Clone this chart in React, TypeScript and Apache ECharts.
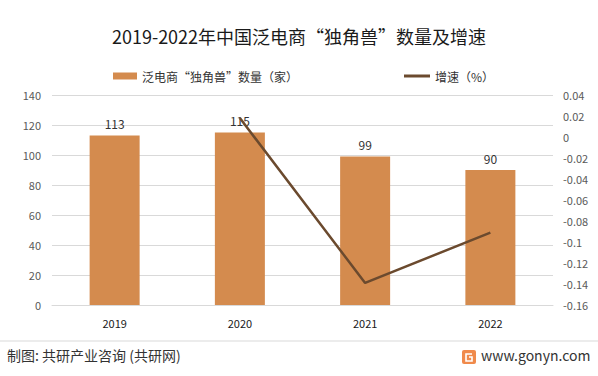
import React, { useEffect, useRef } from "react";
import * as echarts from "echarts";

const categories = ["2019", "2020", "2021", "2022"];
const counts = [113, 115, 99, 90];
const growth: (number | null)[] = [null, 0.018, -0.139, -0.091];
const leftTicks = { min: 0, max: 140, interval: 20 };
const rightTicks = { min: -0.16, max: 0.04, interval: 0.02 };
const barName = "泛电商“独角兽”数量（家）";
const lineName = "增速（%）";
const titleText = "2019-2022年中国泛电商“独角兽”数量及增速";
const sourceText = "制图: 共研产业咨询 (共研网)";
const siteText = "www.gonyn.com";

const FONT = "'Noto Sans CJK SC', 'Noto Sans', sans-serif";

export default function App() {
  const ref = useRef<HTMLDivElement>(null);
  useEffect(() => {
    if (!ref.current) return;
    document.body.style.margin = "0";
    const chart = echarts.init(ref.current, null, { renderer: "svg" });
    chart.setOption({
      animation: false,
      backgroundColor: "#ffffff",
      textStyle: { fontFamily: FONT },
      title: {
        text: titleText,
        left: "center",
        top: 22,
        textStyle: { fontSize: 18, fontWeight: "normal", color: "#1a1a1a", fontFamily: FONT },
      },
      legend: [
        {
          data: [barName],
          left: 108,
          top: 65,
          icon: "rect",
          itemWidth: 24,
          itemHeight: 7,
          itemGap: 4,
          textStyle: { fontSize: 12, color: "#333", fontFamily: FONT },
        },
        {
          data: [lineName],
          left: 399,
          top: 65,
          icon: "rect",
          itemWidth: 26,
          itemHeight: 3,
          textStyle: { fontSize: 12, color: "#333", fontFamily: FONT },
        },
      ],
      grid: { left: 52, right: 45, top: 95, bottom: 71, containLabel: false },
      xAxis: {
        type: "category",
        data: categories,
        axisLine: { show: true, lineStyle: { color: "#d9d9d9", width: 1 } },
        axisTick: { show: false },
        axisLabel: { fontSize: 11, color: "#1a1a1a", margin: 12, fontFamily: FONT },
      },
      yAxis: [
        {
          type: "value",
          min: leftTicks.min,
          max: leftTicks.max,
          interval: leftTicks.interval,
          axisLine: { show: false },
          axisTick: { show: false },
          axisLabel: { fontSize: 11, color: "#595959", margin: 11, fontFamily: FONT },
          splitLine: { lineStyle: { color: "#d9d9d9", width: 1 } },
        },
        {
          type: "value",
          min: rightTicks.min,
          max: rightTicks.max,
          interval: rightTicks.interval,
          position: "right",
          axisLine: { show: false },
          axisTick: { show: false },
          splitLine: { show: false },
          axisLabel: {
            fontSize: 11,
            color: "#595959",
            margin: 10,
            fontFamily: FONT,
            formatter: (v: number) => String(parseFloat(v.toFixed(2))),
          },
        },
      ],
      series: [
        {
          name: barName,
          type: "bar",
          data: counts,
          barWidth: 50,
          itemStyle: { color: "#d48b4e" },
          label: {
            show: true,
            position: "top",
            distance: 6,
            fontSize: 12,
            color: "#333",
            fontFamily: FONT,
          },
        },
        {
          name: lineName,
          type: "line",
          yAxisIndex: 1,
          data: growth,
          symbol: "none",
          connectNulls: false,
          lineStyle: { color: "#6b4a2e", width: 2.5 },
          itemStyle: { color: "#6b4a2e" },
        },
      ],
      graphic: [
        {
          type: "line",
          shape: { x1: 0, y1: 341, x2: 598, y2: 341 },
          style: { stroke: "#d9d9d9", lineWidth: 1 },
        },
        {
          type: "text",
          left: 7,
          top: 348,
          style: { text: sourceText, fontSize: 14, fill: "#333", fontFamily: FONT },
        },
        {
          type: "rect",
          shape: { x: 462, y: 350, width: 14, height: 14, r: 2 },
          style: { fill: "#f08a4b" },
        },
        {
          type: "polyline",
          shape: { points: [[472, 354], [466, 354], [466, 361], [472, 361], [472, 357], [469, 357]] },
          style: { stroke: "#ffffff", lineWidth: 1.6, fill: "none" },
        },
        {
          type: "text",
          left: 481,
          top: 348,
          style: { text: siteText, fontSize: 14, fill: "#333", fontFamily: FONT },
        },
      ],
    });
    return () => chart.dispose();
  }, []);
  return <div ref={ref} style={{ position: "fixed", left: 0, top: 0, width: 598, height: 376 }} />;
}
